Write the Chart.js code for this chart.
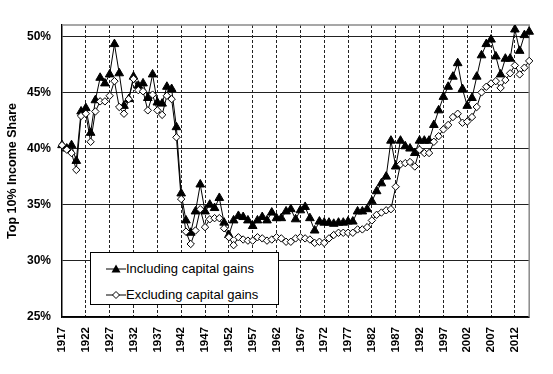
<!DOCTYPE html>
<html>
<head>
<meta charset="utf-8">
<script src="https://cdn.jsdelivr.net/npm/chart.js@4"></script>
<style>
  body { margin: 0; background: #fff; }
  #wrap { position: relative; width: 553px; height: 374px; }
  #legend {
    position: absolute; left: 90px; top: 252px; width: 187px; height: 51px;
    border: 1px solid #000; background: #fff;
    font: 13px Arial, "Liberation Sans", sans-serif; color: #000;
  }
  .row { position: absolute; left: 15px; height: 15px; line-height: 15px; white-space: nowrap; }
  .row svg { vertical-align: middle; margin-right: 0px; position: relative; top: -1px; }
</style>
</head>
<body>
<div id="wrap">
  <canvas id="myChart" width="553" height="374"></canvas>
  <div id="legend">
    <div class="row" style="top:8px">
      <svg width="20" height="12"><line x1="0" y1="6" x2="20" y2="6" stroke="#000" stroke-width="1"/><polygon points="10,1.5 14.5,9.5 5.5,9.5" fill="#000"/></svg>Including capital gains
    </div>
    <div class="row" style="top:34px">
      <svg width="20" height="12"><line x1="0" y1="6" x2="20" y2="6" stroke="#000" stroke-width="1"/><polygon points="10,2.5 13.5,6 10,9.5 6.5,6" fill="#fff" stroke="#000" stroke-width="1"/></svg>Excluding capital gains
    </div>
  </div>
</div>
<script>
// years on the x axis
var years = [
  '1917','1918','1919','1920','1921','1922','1923','1924','1925','1926',
  '1927','1928','1929','1930','1931','1932','1933','1934','1935','1936',
  '1937','1938','1939','1940','1941','1942','1943','1944','1945','1946',
  '1947','1948','1949','1950','1951','1952','1953','1954','1955','1956',
  '1957','1958','1959','1960','1961','1962','1963','1964','1965','1966',
  '1967','1968','1969','1970','1971','1972','1973','1974','1975','1976',
  '1977','1978','1979','1980','1981','1982','1983','1984','1985','1986',
  '1987','1988','1989','1990','1991','1992','1993','1994','1995','1996',
  '1997','1998','1999','2000','2001','2002','2003','2004','2005','2006',
  '2007','2008','2009','2010','2011','2012','2013','2014','2015'
];

// top 10% share including capital gains
var incl = [
  40.3, 40.0, 40.3, 38.9, 43.3, 43.6, 41.4, 44.3, 46.3, 45.8,
  46.6, 49.3, 46.7, 43.8, 44.4, 46.4, 45.6, 45.8, 44.5, 46.6,
  44.1, 44.0, 45.5, 45.3, 41.9, 36.0, 33.6, 32.5, 34.4, 36.8,
  34.4, 35.0, 34.7, 35.6, 33.4, 32.3, 33.6, 34.0, 33.9, 33.6,
  33.1, 33.6, 33.9, 33.6, 34.3, 33.8, 33.8, 34.4, 34.6, 33.7,
  34.5, 34.8, 33.8, 32.7, 33.5, 33.4, 33.4, 33.3, 33.4, 33.4,
  33.5, 33.5, 34.4, 34.4, 34.6, 35.3, 36.2, 36.9, 37.5, 40.7,
  38.4, 40.7, 40.2, 40.0, 39.6, 40.7, 40.7, 40.7, 42.1, 43.4,
  44.6, 45.5, 46.4, 47.6, 45.3, 43.8, 44.5, 46.4, 48.3, 49.3,
  49.7, 48.2, 46.6, 48.0, 48.0, 50.6, 48.7, 50.1, 50.4
];

// top 10% share excluding capital gains
var excl = [
  40.3, 39.9, 39.6, 38.1, 42.9, 43.1, 40.6, 43.3, 44.2, 44.2,
  44.7, 46.0, 43.7, 43.1, 44.4, 46.2, 45.2, 45.1, 43.4, 44.8,
  43.4, 43.0, 44.7, 44.4, 41.0, 35.5, 32.6, 31.5, 32.7, 34.6,
  33.0, 33.7, 33.8, 33.8, 32.9, 32.1, 31.4, 32.1, 31.9, 31.8,
  31.8, 32.1, 32.0, 31.8, 31.9, 32.1, 32.0, 31.7, 31.7, 32.0,
  32.1, 32.0, 31.9, 31.6, 31.7, 31.6, 32.0, 32.3, 32.5, 32.5,
  32.5, 32.5, 32.8, 32.8, 33.0, 33.6, 34.1, 34.3, 34.5, 34.6,
  36.6, 38.6, 38.7, 38.8, 38.4, 39.9, 39.6, 39.6, 40.6, 41.1,
  41.7, 42.1, 42.8, 43.1, 42.3, 42.4, 42.8, 43.7, 45.0, 45.5,
  45.8, 46.0, 45.4, 46.1, 46.7, 47.4, 46.6, 47.2, 47.8
];

var yTicks = [25, 30, 35, 40, 45, 50];
var xTicks = ['1917','1922','1927','1932','1937','1942','1947','1952','1957','1962',
              '1967','1972','1977','1982','1987','1992','1997','2002','2007','2012'];

var FONT = 'Arial, "Liberation Sans", sans-serif';

// gray top and right edges of the plot box
var frame = {
  id: 'frame',
  beforeDatasetsDraw: function(chart) {
    var a = chart.chartArea, c = chart.ctx;
    c.save();
    c.strokeStyle = '#8a8a8a';
    c.lineWidth = 1.5;
    c.beginPath();
    c.moveTo(a.left, a.top);
    c.lineTo(a.right, a.top);
    c.lineTo(a.right, a.bottom);
    c.stroke();
    c.restore();
  }
};

var ctx = document.getElementById('myChart').getContext('2d');
var chart = new Chart(ctx, {
  type: 'line',
  data: {
    labels: years,
    datasets: [{
      label: 'Including capital gains',
      data: incl,
      borderColor: '#000',
      backgroundColor: '#000',
      borderWidth: 1,
      pointStyle: 'triangle',
      pointRadius: 5,
      pointBackgroundColor: '#000',
      pointBorderColor: '#000',
      pointBorderWidth: 1,
      tension: 0,
      order: 1
    }, {
      label: 'Excluding capital gains',
      data: excl,
      borderColor: '#000',
      backgroundColor: '#fff',
      borderWidth: 1,
      pointStyle: 'rectRot',
      pointRadius: 3.7,
      pointBackgroundColor: '#fff',
      pointBorderColor: '#000',
      pointBorderWidth: 1,
      tension: 0,
      order: 0
    }]
  },
  options: {
    responsive: false,
    animation: false,
    layout: { padding: { top: 25, right: 23, left: 0, bottom: 0 } },
    plugins: { legend: { display: false }, tooltip: { enabled: false } },
    scales: {
      x: {
        type: 'category',
        offset: false,
        ticks: {
          autoSkip: false, maxRotation: 90, minRotation: 90, padding: 10,
          color: '#000', font: { family: FONT, size: 11.5, weight: 'bold' },
          callback: function(v, i) { return xTicks.indexOf(years[i]) >= 0 ? years[i] : ''; }
        },
        grid: {
          drawTicks: false, lineWidth: 1,
          color: function(c) { return xTicks.indexOf(years[c.index]) > 0 ? '#222' : 'rgba(0,0,0,0)'; }
        },
        border: { color: '#000', width: 1.5, dash: [3, 2] },
        afterFit: function(s) { s.height = 57; }
      },
      y: {
        min: 25, max: 51,
        afterBuildTicks: function(s) { s.ticks = yTicks.map(function(v) { return { value: v }; }); },
        ticks: {
          padding: 11, color: '#000', font: { family: FONT, size: 12, weight: 'bold' },
          callback: function(v) { return v + '%'; }
        },
        grid: { drawTicks: false, color: '#222', lineWidth: 1 },
        border: { color: '#000', width: 1.5 },
        title: {
          display: true, text: 'Top 10% Income Share', color: '#000', padding: { top: 5, bottom: 0 },
          font: { family: FONT, size: 12.5, weight: 'bold' }
        },
        afterFit: function(s) { s.width = 62; }
      }
    }
  },
  plugins: [frame]
});
</script>
</body>
</html>
